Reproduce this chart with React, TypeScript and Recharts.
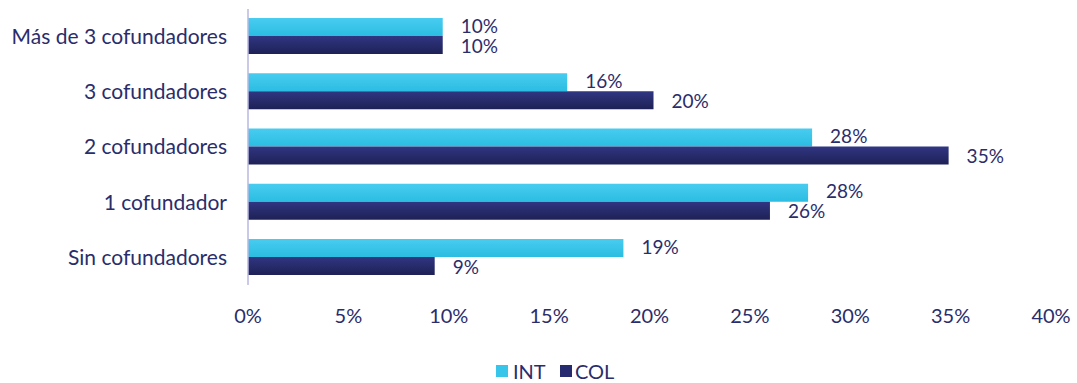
import React from "react";
import { BarChart, Bar, XAxis, YAxis, Legend, LabelList } from "recharts";

const categories = [
  "Más de 3 cofundadores",
  "3 cofundadores",
  "2 cofundadores",
  "1 cofundador",
  "Sin cofundadores",
];
const intValues = [9.7, 15.9, 28.1, 27.9, 18.7];
const colValues = [9.7, 20.2, 34.9, 26.0, 9.3];
const xTicks = [0, 5, 10, 15, 20, 25, 30, 35, 40];

const data = categories.map((c, i) => ({ name: c, INT: intValues[i], COL: colValues[i] }));

const TEXT = "#2A2D6B";
const FONT = "Lato, 'Open Sans', sans-serif";
const pct = (v: any) => `${Math.round(Number(v))}%`;

const LegendContent = () => (
  <div style={{ position: "relative", height: 20, fontFamily: FONT, fontSize: 20, color: TEXT, lineHeight: "20px" }}>
    <span style={{ position: "absolute", left: 496, top: 4, width: 12, height: 12, background: "#37C5EA" }} />
    <span style={{ position: "absolute", left: 513, top: 0 }}>INT</span>
    <span style={{ position: "absolute", left: 560, top: 4, width: 12, height: 12, background: "#262A6E" }} />
    <span style={{ position: "absolute", left: 575, top: 0 }}>COL</span>
  </div>
);

export default function App() {
  return (
    <div style={{ position: "absolute", left: 0, top: 0, width: 1077, height: 383, background: "#fff" }}>
      <BarChart
        width={1077}
        height={383}
        data={data}
        layout="vertical"
        margin={{ top: 9, right: 26, bottom: 28, left: 0 }}
        barGap={0}
        barCategoryGap="16.5%"
      >
        <defs>
          <linearGradient id="gInt" x1="0" y1="0" x2="0" y2="1">
            <stop offset="0%" stopColor="#48CCF0" />
            <stop offset="100%" stopColor="#2BBDE2" />
          </linearGradient>
          <linearGradient id="gCol" x1="0" y1="0" x2="0" y2="1">
            <stop offset="0%" stopColor="#303682" />
            <stop offset="100%" stopColor="#1E2155" />
          </linearGradient>
        </defs>
        <XAxis
          type="number"
          domain={[0, 40]}
          ticks={xTicks}
          tickFormatter={(v) => `${v}%`}
          axisLine={false}
          tickLine={false}
          tickSize={0}
          tickMargin={24}
          height={50}
          interval={0}
          tick={{ fill: TEXT, fontSize: 20, fontFamily: FONT }}
        />
        <YAxis
          type="category"
          dataKey="name"
          width={248}
          axisLine={{ stroke: "#B8B7E0", strokeWidth: 1.5 }}
          tickLine={false}
          tickSize={0}
          tickMargin={21}
          interval={0}
          tick={{ fill: TEXT, fontSize: 21, fontFamily: FONT }}
        />
        <Legend
          verticalAlign="bottom"
          content={<LegendContent />}
          wrapperStyle={{ top: 361, height: 20, left: 0, width: 1077 }}
        />
        <Bar dataKey="INT" fill="url(#gInt)" isAnimationActive={false}>
          <LabelList dataKey="INT" position="right" offset={18} formatter={pct} fill={TEXT} fontSize={19} fontFamily={FONT} dy={-1} />
        </Bar>
        <Bar dataKey="COL" fill="url(#gCol)" isAnimationActive={false}>
          <LabelList dataKey="COL" position="right" offset={18} formatter={pct} fill={TEXT} fontSize={19} fontFamily={FONT} dy={1} />
        </Bar>
      </BarChart>
    </div>
  );
}
